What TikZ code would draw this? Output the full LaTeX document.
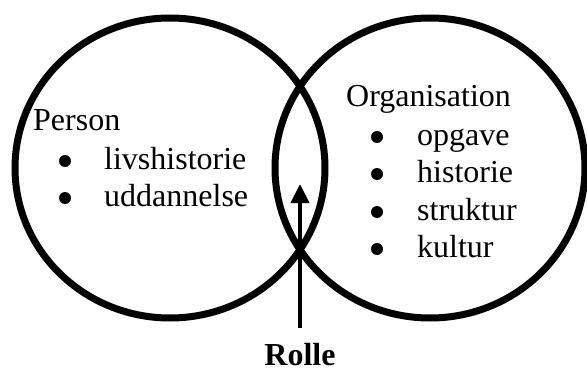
\documentclass[tikz,border=0pt]{standalone}
\usepackage{fontspec}
\setmainfont{Liberation Serif}
\usetikzlibrary{arrows.meta,shapes.geometric}
\begin{document}
\begin{tikzpicture}[x=1pt,y=-1pt,
  ring/.style={draw=black, line width=7pt, ellipse, inner sep=0pt,
    minimum width=310pt, minimum height=300pt},
  lbl/.style={font=\fontsize{32}{38}\selectfont, anchor=base west, inner sep=0pt},
  dot/.style={circle, fill=black, inner sep=0pt, minimum size=12pt},
  uparrow/.style={line width=4pt, -{Triangle[length=19pt,width=18pt]}}]
\useasboundingbox (0,0) rectangle (587,372);
\node[ring] (person) at (170,168) {};
\node[ring] (org) at (430,168) {};
% left texts
\node[lbl] (ptitle) at (33,130) {Person};
\node[dot] (b1) at (65,161) {};
\node[lbl] (t1) at (104,169) {livshistorie};
\node[dot] (b2) at (65,198) {};
\node[lbl] (t2) at (104,206) {uddannelse};
% right texts
\node[lbl] (otitle) at (346,106) {Organisation};
\node[dot] (c1) at (377,137) {};
\node[lbl] (u1) at (417,145) {opgave};
\node[dot] (c2) at (377,174) {};
\node[lbl] (u2) at (417,182) {historie};
\node[dot] (c3) at (377,212) {};
\node[lbl] (u3) at (417,220) {struktur};
\node[dot] (c4) at (377,249) {};
\node[lbl] (u4) at (417,257) {kultur};
% role
\node[font=\fontsize{32}{38}\selectfont\bfseries, anchor=base, inner sep=0pt, text depth=0pt] (rolle) at (300,365) {Rolle};
\coordinate (tail) at (300,328);
\coordinate (tip) at (300,184);
\draw[uparrow] (tail) -- (tip);
\end{tikzpicture}
\end{document}
